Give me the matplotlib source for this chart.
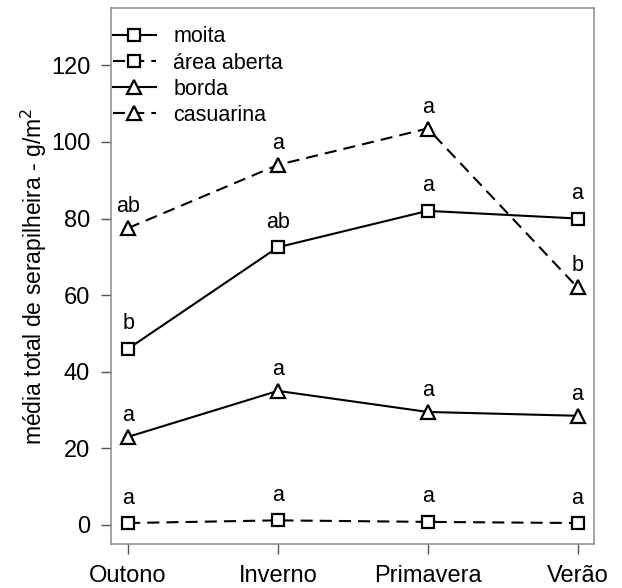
import matplotlib
matplotlib.use("Agg")
import matplotlib.pyplot as plt

plt.rcParams['font.family'] = ['Liberation Sans', 'DejaVu Sans']

seasons = ["Outono", "Inverno", "Primavera", "Verão"]

moita = [46.0, 72.5, 82.0, 80.0]
area_aberta = [0.5, 1.2, 0.8, 0.5]
borda = [23.0, 35.0, 29.5, 28.5]
casuarina = [77.5, 94.0, 103.5, 62.0]

letters_moita = ["b", "ab", "a", "a"]
letters_area = ["a", "a", "a", "a"]
letters_borda = ["a", "a", "a", "a"]
letters_casuarina = ["ab", "a", "a", "b"]

yticks = [0, 20, 40, 60, 80, 100, 120]

fig = plt.figure(figsize=(6.22, 5.88), dpi=100)
ax = fig.add_axes([0.1785, 0.074, 0.7765, 0.912])

x = list(range(len(seasons)))
dash = (5.8, 3.4)

series = [
    ("moita", moita, letters_moita, "s", "-", 8.0, 14),
    ("área aberta", area_aberta, letters_area, "s", "--", 8.0, 14),
    ("borda", borda, letters_borda, "^", "-", 9.5, 11.5),
    ("casuarina", casuarina, letters_casuarina, "^", "--", 9.5, 11.5),
]

for name, vals, lets, mk, ls, ms, off in series:
    line, = ax.plot(x, vals, color="black", lw=1.5, marker=mk, ms=ms,
                    mfc="white", mec="black", mew=1.6, label=name,
                    linestyle=ls, zorder=3)
    if ls == "--":
        line.set_dashes(dash)
    for xi, v, t in zip(x, vals, lets):
        ax.annotate(t, (xi, v), xytext=(0, off), textcoords="offset points",
                    ha="center", va="baseline", fontsize=15.5)

ax.set_xlim(-0.114, 3.11)
ax.set_ylim(-5.1, 134.9)
ax.set_xticks(x)
ax.set_xticklabels(seasons)
ax.set_yticks(yticks)

for s in ax.spines.values():
    s.set_color("#8c8c8c")
    s.set_linewidth(1.1)

ax.tick_params(axis="both", direction="out", length=7, width=1.0,
               color="#555555", labelsize=17)
ax.tick_params(axis="y", pad=8)
ax.tick_params(axis="x", pad=8)

ax.set_ylabel("média total de serapilheira - g/m$^2$", fontsize=16.5, labelpad=1)

ax.legend(loc="upper left", bbox_to_anchor=(0.004, 0.966), frameon=False,
          fontsize=15.5, handlelength=2.0, handletextpad=0.8,
          labelspacing=0.24, borderpad=0, borderaxespad=0)

fig.savefig("out.png", dpi=100)
